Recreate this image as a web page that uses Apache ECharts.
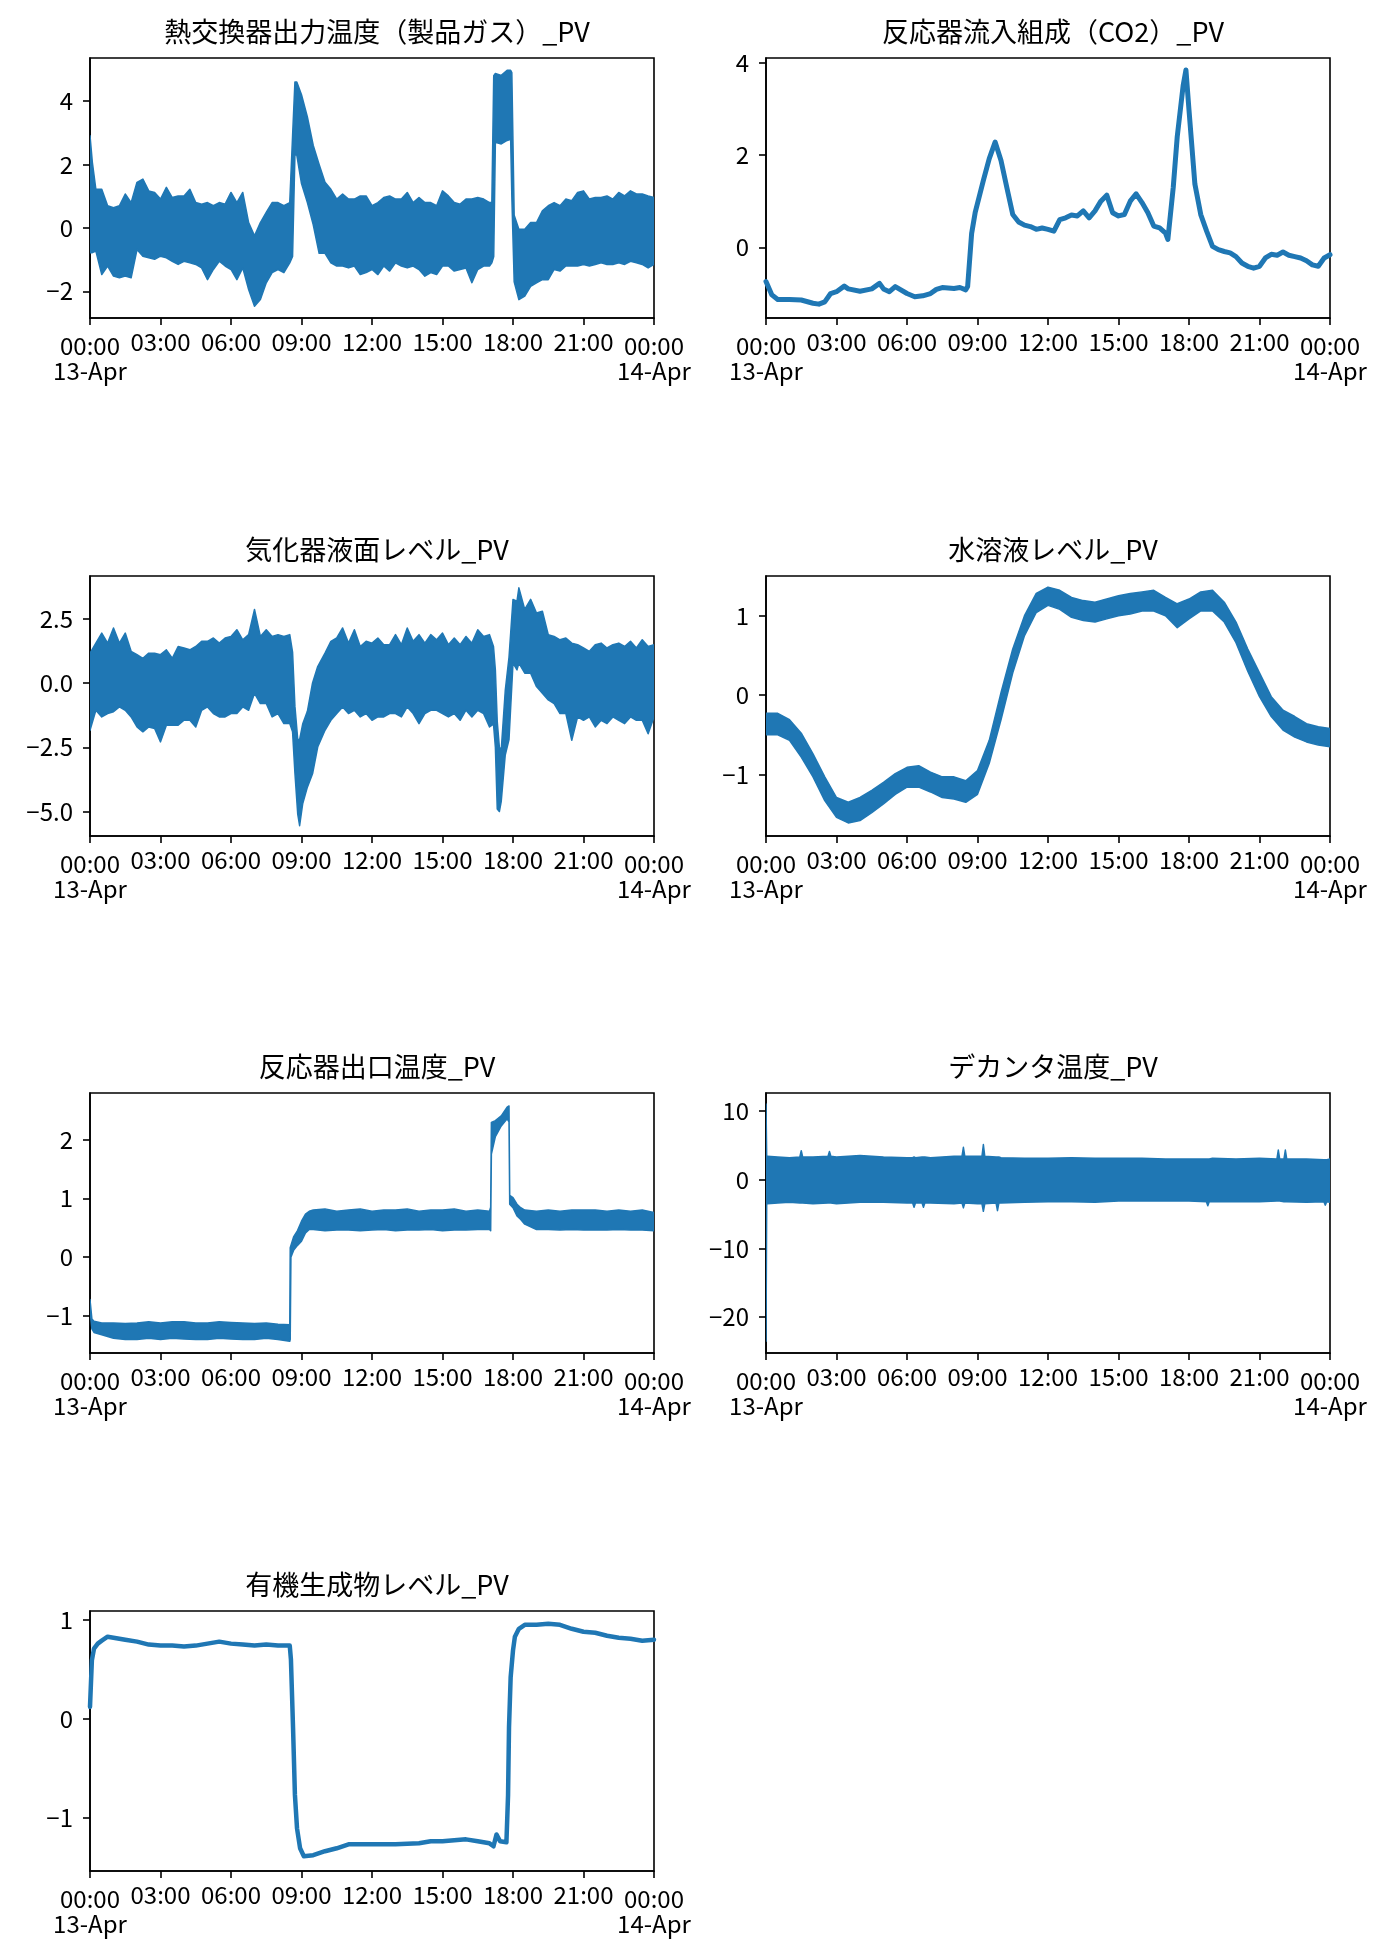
<!DOCTYPE html>
<html><head><meta charset="utf-8">
<script src="https://cdn.jsdelivr.net/npm/echarts@6/dist/echarts.min.js"></script>
<style>html,body{margin:0;padding:0;background:#fff}#c{width:1389px;height:1959px}</style>
</head><body><div id="c"></div>
<script>
// ---------------- DATA (time in hours from 13-Apr 00:00) ----------------
const TITLES = ['熱交換器出力温度（製品ガス）_PV','反応器流入組成（CO2）_PV','気化器液面レベル_PV','水溶液レベル_PV','反応器出口温度_PV','デカンタ温度_PV','有機生成物レベル_PV'];
const X_TICK_LABELS = ['00:00','03:00','06:00','09:00','12:00','15:00','18:00','21:00','00:00'];
const X_DATE_LABELS = ['13-Apr','14-Apr'];

// 1. 熱交換器出力温度 (band envelope)
const hxT = [0,0.1,0.25,0.5,0.75,1,1.25,1.5,1.75,2,
2.25,2.5,2.75,3,3.25,3.5,3.75,4,4.25,4.5,
4.75,5,5.25,5.5,5.75,6,6.25,6.5,6.75,7,
7.25,7.5,7.75,8,8.25,8.5,8.62,8.72,8.8,9,
9.25,9.5,9.75,10,10.25,10.5,10.75,11,11.25,11.5,
11.75,12,12.25,12.5,12.75,13,13.25,13.5,13.75,14,
14.25,14.5,14.75,15,15.25,15.5,15.75,16,16.25,16.5,
16.75,17,17.1,17.18,17.25,17.5,17.75,17.9,17.95,18.05,
18.25,18.5,18.75,19,19.25,19.5,19.75,20,20.25,20.5,
20.75,21,21.25,21.5,21.75,22,22.25,22.5,22.75,23,
23.25,23.5,23.75,24];
const hxHi = [2.91,2.07,1.22,1.22,0.70,0.64,0.70,1.07,0.80,1.44,
1.54,1.17,1.12,0.91,1.28,0.96,1.01,1.01,1.22,0.80,
0.75,0.80,0.70,0.80,0.75,1.12,0.80,1.12,0.17,-0.25,
0.17,0.49,0.80,0.80,0.70,0.80,2.90,4.60,4.60,4.20,
3.50,2.60,2.00,1.44,1.22,0.91,1.07,0.91,0.91,1.01,
1.01,0.70,0.80,0.96,1.01,0.91,0.91,1.12,0.80,0.96,
0.80,0.80,0.70,1.17,1.01,0.80,0.75,0.91,0.91,0.96,
0.91,0.80,0.80,4.80,4.87,4.81,4.97,4.97,4.90,0.40,
-0.04,-0.04,0.17,0.17,0.54,0.70,0.80,0.70,0.91,0.86,
1.12,1.17,0.91,0.96,0.96,1.01,0.91,1.12,1.01,1.17,
1.07,1.07,1.01,0.96];
const hxLo = [-0.78,-0.78,-0.73,-1.47,-1.20,-1.52,-1.57,-1.52,-1.57,-0.68,
-0.89,-0.94,-0.99,-0.89,-0.94,-1.05,-1.15,-1.05,-1.10,-1.15,
-1.26,-1.63,-1.31,-1.05,-1.20,-1.31,-1.63,-1.26,-1.94,-2.47,
-2.26,-1.73,-1.41,-1.31,-1.41,-1.10,-0.90,2.30,2.30,1.40,
0.80,0.10,-0.80,-0.80,-1.10,-1.20,-1.20,-1.26,-1.20,-1.47,
-1.41,-1.31,-1.47,-1.20,-1.36,-1.10,-1.20,-1.26,-1.20,-1.31,
-1.52,-1.41,-1.47,-1.20,-1.20,-1.36,-1.31,-1.26,-1.73,-1.31,
-1.20,-1.20,-1.10,-0.90,2.70,2.65,2.76,2.80,1.00,-1.70,
-2.26,-2.15,-1.84,-1.73,-1.63,-1.63,-1.31,-1.36,-1.20,-1.20,
-1.20,-1.15,-1.20,-1.15,-1.10,-1.15,-1.15,-1.10,-1.15,-1.05,
-1.10,-1.15,-1.26,-1.15];

// 2. 反応器流入組成（CO2） (line)
const coT = [0,0.25,0.5,1,1.5,2,2.25,2.5,2.75,3,
3.33,3.5,4,4.5,4.83,5,5.25,5.5,6,6.33,
6.67,7,7.25,7.5,8,8.25,8.5,8.58,8.75,8.9,
9.25,9.5,9.75,10,10.25,10.5,10.75,11,11.25,11.5,
11.75,12,12.25,12.5,12.75,13,13.25,13.5,13.75,14,
14.25,14.5,14.75,15,15.25,15.5,15.75,16,16.25,16.5,
16.75,17,17.1,17.33,17.5,17.75,17.87,18,18.25,18.5,
18.75,19,19.25,19.5,19.75,20,20.25,20.5,20.75,21,
21.25,21.5,21.75,22,22.25,22.5,22.75,23,23.25,23.5,
23.75,24];
const coV = [-0.74,-1.03,-1.13,-1.13,-1.14,-1.21,-1.23,-1.18,-1.00,-0.96,
-0.84,-0.90,-0.95,-0.90,-0.78,-0.90,-0.96,-0.85,-1.00,-1.07,
-1.05,-1.00,-0.91,-0.87,-0.89,-0.87,-0.92,-0.85,0.30,0.75,
1.45,1.92,2.28,1.88,1.29,0.71,0.55,0.48,0.45,0.39,
0.42,0.39,0.35,0.60,0.64,0.70,0.68,0.79,0.64,0.79,
1.00,1.13,0.75,0.68,0.71,1.00,1.16,0.97,0.75,0.46,
0.42,0.31,0.17,1.30,2.40,3.50,3.84,2.97,1.37,0.71,
0.35,0.02,-0.05,-0.09,-0.12,-0.20,-0.34,-0.41,-0.45,-0.41,
-0.23,-0.15,-0.17,-0.10,-0.17,-0.20,-0.23,-0.29,-0.38,-0.41,
-0.23,-0.16];

// 3. 気化器液面レベル (band envelope)
const vpT = [0,0.25,0.5,0.75,1,1.25,1.5,1.75,2,2.25,
2.5,2.75,3,3.25,3.5,3.75,4,4.25,4.5,4.75,
5,5.25,5.5,5.75,6,6.25,6.5,6.75,7,7.25,
7.5,7.75,8,8.25,8.5,8.62,8.72,8.84,8.92,9.05,
9.25,9.47,9.69,10,10.25,10.5,10.75,11,11.25,11.5,
11.75,12,12.25,12.5,12.75,13,13.25,13.5,13.75,14,
14.25,14.5,14.75,15,15.25,15.5,15.75,16,16.25,16.5,
16.75,17,17.17,17.25,17.33,17.42,17.5,17.67,17.83,18,
18.17,18.25,18.5,18.75,19,19.25,19.5,19.75,20,20.25,
20.5,20.75,21,21.25,21.5,21.75,22,22.25,22.5,22.75,
23,23.25,23.5,23.75,24];
const vpHi = [1.16,1.55,1.94,1.55,2.14,1.55,1.94,1.23,1.10,0.96,
1.16,1.16,1.10,1.29,0.96,1.42,1.36,1.29,1.42,1.62,
1.62,1.75,1.55,1.75,1.81,2.07,1.68,1.88,2.86,1.81,
2.07,1.81,1.88,1.81,1.88,1.20,-0.90,-2.20,-2.20,-1.60,
-1.10,0.00,0.64,1.16,1.62,1.75,2.14,1.55,2.07,1.42,
1.62,1.55,1.75,1.49,1.49,1.88,1.49,2.14,1.62,1.88,
1.55,1.88,1.68,1.94,1.49,1.75,1.49,1.81,1.55,2.07,
1.81,1.88,1.42,0.50,-1.50,-2.50,-2.60,-0.30,1.00,3.25,
3.18,3.70,2.86,3.25,2.72,2.79,1.88,1.81,1.68,1.75,
1.55,1.49,1.36,1.23,1.49,1.55,1.36,1.49,1.55,1.42,
1.62,1.36,1.68,1.42,1.49];
const vpLo = [-1.84,-1.06,-1.32,-1.19,-1.12,-0.93,-1.06,-1.32,-1.71,-1.90,
-1.71,-1.77,-2.29,-1.64,-1.64,-1.64,-1.45,-1.45,-1.71,-1.06,
-0.93,-1.19,-1.32,-1.32,-1.19,-1.19,-0.93,-1.06,-0.40,-0.80,
-0.80,-1.32,-1.19,-1.58,-1.58,-1.90,-3.50,-5.10,-5.55,-4.70,
-4.05,-3.53,-2.49,-1.84,-1.45,-1.19,-0.93,-1.19,-1.06,-1.32,
-1.19,-1.45,-1.32,-1.32,-1.19,-1.19,-1.32,-0.93,-1.19,-1.58,
-1.19,-1.06,-1.06,-1.19,-1.32,-1.19,-1.45,-1.06,-1.32,-1.06,
-1.19,-1.71,-1.60,-2.50,-4.90,-5.00,-4.60,-2.80,-2.20,0.77,
0.51,0.77,0.38,0.38,-0.14,-0.40,-0.66,-0.80,-1.19,-1.19,
-2.23,-1.32,-1.45,-1.32,-1.71,-1.45,-1.58,-1.32,-1.45,-1.58,
-1.32,-1.45,-1.45,-1.97,-1.32];

// 4. 水溶液レベル (band envelope, 30 min)
const aqT = [0,0.5,1,1.5,2,2.5,3,3.5,4,4.5,5,5.5,6,6.5,7,7.5,8,8.5,9,9.5,10,10.5,11,11.5,12,12.5,13,13.5,14,14.5,15,15.5,16,16.5,17,17.5,18,18.5,19,19.5,20,20.5,21,21.5,22,22.5,23,23.5,24];
const aqHi = [-0.23,-0.23,-0.31,-0.48,-0.74,-1.03,-1.29,-1.35,-1.29,-1.20,-1.10,-0.99,-0.91,-0.89,-0.97,-1.03,-1.03,-1.08,-0.95,-0.57,0.03,0.58,1.00,1.28,1.36,1.32,1.23,1.19,1.17,1.21,1.25,1.28,1.30,1.32,1.23,1.15,1.21,1.30,1.32,1.17,0.92,0.58,0.28,-0.02,-0.19,-0.27,-0.36,-0.40,-0.42];
const aqLo = [-0.50,-0.50,-0.57,-0.78,-1.03,-1.33,-1.54,-1.61,-1.58,-1.48,-1.37,-1.25,-1.16,-1.16,-1.22,-1.29,-1.31,-1.35,-1.25,-0.86,-0.31,0.28,0.75,1.04,1.13,1.08,0.98,0.94,0.92,0.96,1.00,1.02,1.06,1.06,1.00,0.85,0.96,1.06,1.06,0.92,0.66,0.30,-0.02,-0.27,-0.44,-0.53,-0.59,-0.63,-0.65];

// 5. 反応器出口温度 (band envelope)
const otT = [0,0.08,0.17,0.5,1,1.5,2,2.5,3,3.5,
4,4.5,5,5.5,6,6.5,7,7.5,8,8.5,
8.52,8.55,8.67,8.83,9,9.17,9.33,9.5,10,10.5,
11,11.5,12,12.5,13,13.5,14,14.5,15,15.5,
16,16.5,17,17.05,17.08,17.25,17.5,17.75,17.83,17.86,
18,18.17,18.33,18.5,19,19.5,20,20.5,21,21.5,
22,22.5,23,23.5,24];
const otHi = [-0.72,-1.05,-1.09,-1.12,-1.12,-1.13,-1.12,-1.10,-1.12,-1.10,
-1.10,-1.12,-1.12,-1.10,-1.11,-1.12,-1.13,-1.12,-1.14,-1.15,
0.16,0.20,0.35,0.45,0.61,0.73,0.78,0.80,0.82,0.78,
0.80,0.82,0.78,0.80,0.80,0.82,0.78,0.80,0.80,0.82,
0.78,0.80,0.78,0.85,2.29,2.32,2.40,2.55,2.57,1.05,
1.01,0.90,0.84,0.80,0.78,0.80,0.78,0.80,0.80,0.80,
0.78,0.80,0.78,0.80,0.76];
const otLo = [-0.90,-1.22,-1.28,-1.32,-1.38,-1.40,-1.40,-1.38,-1.40,-1.38,
-1.39,-1.40,-1.40,-1.38,-1.39,-1.40,-1.40,-1.38,-1.40,-1.43,
-1.40,0.00,0.12,0.20,0.27,0.41,0.47,0.47,0.45,0.46,
0.46,0.45,0.46,0.47,0.45,0.46,0.46,0.47,0.45,0.46,
0.46,0.47,0.47,0.45,1.75,2.05,2.23,2.35,2.30,0.90,
0.84,0.70,0.64,0.56,0.47,0.47,0.46,0.47,0.46,0.46,
0.46,0.47,0.46,0.46,0.45];

// 6. デカンタ温度 (band envelope)
const dcT = [0,0.03,0.06,0.5,1,1.44,1.5,1.56,2,2.64,
2.7,2.76,3,4,5,6,6.24,6.3,6.36,6.64,
6.7,6.76,7,8,8.34,8.4,8.46,9,9.19,9.25,
9.31,9.79,9.85,9.91,10,11,12,13,14,15,
16,17,18,18.74,18.8,18.86,19,20,21,21.74,
21.8,21.86,22.04,22.1,22.16,23,23.74,23.8,23.86,24];
const dcHi = [11.0,3.3,3.4,3.3,3.2,3.3,4.2,3.3,3.3,3.4,
4.1,3.4,3.3,3.5,3.3,3.2,3.2,3.3,3.2,3.3,
3.3,3.3,3.2,3.4,3.4,4.7,3.4,3.4,3.4,5.1,
3.4,3.3,3.3,3.3,3.2,3.1,3.1,3.2,3.1,3.1,
3.1,3.0,3.0,3.0,3.0,3.0,3.1,3.0,3.1,3.0,
4.3,3.0,3.0,4.3,3.0,3.0,2.9,2.9,2.9,3.0];
const dcLo = [-23.5,-3.4,-3.5,-3.4,-3.3,-3.4,-3.4,-3.4,-3.5,-3.4,
-3.4,-3.4,-3.5,-3.3,-3.3,-3.4,-3.4,-4.0,-3.4,-3.4,
-4.0,-3.4,-3.4,-3.5,-3.4,-4.1,-3.4,-3.5,-3.5,-4.6,
-3.5,-3.4,-4.5,-3.4,-3.4,-3.3,-3.2,-3.2,-3.3,-3.1,
-3.1,-3.1,-3.1,-3.2,-3.8,-3.2,-3.2,-3.2,-3.2,-3.1,
-3.1,-3.1,-3.2,-3.2,-3.2,-3.3,-3.2,-3.7,-3.2,-3.3];

// 7. 有機生成物レベル (line)
const orT = [0,0.08,0.17,0.33,0.5,0.75,1,1.5,2,2.5,
3,3.5,4,4.5,5,5.5,6,6.5,7,7.5,
8,8.5,8.55,8.64,8.72,8.81,8.94,9.1,9.5,10,
10.5,11,12,13,14,14.5,15,16,16.5,17,
17.17,17.3,17.45,17.72,17.79,17.83,17.9,18,18.08,18.25,
18.5,19,19.5,20,20.5,21,21.5,22,22.5,23,
23.5,24];
const orV = [0.12,0.59,0.71,0.76,0.79,0.83,0.82,0.80,0.78,0.75,
0.74,0.74,0.73,0.74,0.76,0.78,0.76,0.75,0.74,0.75,
0.74,0.74,0.60,-0.09,-0.77,-1.11,-1.31,-1.39,-1.38,-1.34,
-1.31,-1.27,-1.27,-1.27,-1.26,-1.24,-1.24,-1.22,-1.24,-1.26,
-1.29,-1.17,-1.24,-1.25,-0.77,-0.09,0.42,0.69,0.83,0.91,
0.95,0.95,0.96,0.95,0.91,0.88,0.87,0.84,0.82,0.81,
0.79,0.80];

// y-axis ranges and tick values
const Y_MIN = [-2.84,-1.53,-5.95,-1.775,-1.63,-25.2,-1.54];
const Y_MAX = [5.36,4.10,4.16,1.50,2.79,12.6,1.09];
const Y_TICKS = [[-2,0,2,4],[0,2,4],[-5,-2.5,0,2.5],[-1,0,1],[-1,0,1,2],[-20,-10,0,10],[-1,0,1]];
const Y_DEC = [0,0,1,0,0,0,0];

// ---------------- CHART ----------------
const BLUE = '#1f77b4';
const FONT = '"Noto Sans CJK JP","Noto Sans",sans-serif';
const FS = 24;
const GW = 564, GH = 260;
const GRID_POS = [[90,58],[766,58],[90,576],[766,576],[90,1093],[766,1093],[90,1611]];
const SERIES_DEF = [
  {T:hxT, hi:hxHi, lo:hxLo},
  {T:coT, v:coV, w:5},
  {T:vpT, hi:vpHi, lo:vpLo},
  {T:aqT, hi:aqHi, lo:aqLo},
  {T:otT, hi:otHi, lo:otLo},
  {T:dcT, hi:dcHi, lo:dcLo},
  {T:orT, v:orV, w:4.5}
];

const fmtY = (v, d) => { const s = Math.abs(v).toFixed(d); return (v < 0 ? '\u2212' : '') + s; };

const grid = [], xAxis = [], yAxis = [], series = [], title = [];
GRID_POS.forEach(([l, t], i) => {
  grid.push({left:l, top:t, width:GW, height:GH, show:true, borderColor:'#000', borderWidth:1.6, backgroundColor:'transparent', outerBoundsMode:'none', containLabel:false});
  title.push({text:TITLES[i], left:l + GW/2, top:t - 45, textAlign:'center',
    textStyle:{fontSize:27, fontWeight:'normal', color:'#000', fontFamily:FONT}});
  xAxis.push({type:'value', gridIndex:i, min:0, max:24, interval:3,
    axisLine:{show:true, onZero:false, lineStyle:{color:'#000', width:1.6}},
    axisTick:{show:true, length:7, lineStyle:{color:'#000', width:1.6}},
    splitLine:{show:false},
    axisLabel:{show:true, showMinLabel:true, showMaxLabel:true, margin:12, color:'#000', fontSize:FS, fontFamily:FONT,
      formatter:(v) => {
        const k = Math.round(v/3);
        if (k === 0) return '{d|' + X_TICK_LABELS[0] + '}\n{e|' + X_DATE_LABELS[0] + '}';
        if (k === 8) return '{d|' + X_TICK_LABELS[8] + '}\n{e|' + X_DATE_LABELS[1] + '}';
        return X_TICK_LABELS[k];
      },
      rich:{
        d:{fontSize:FS, fontFamily:FONT, color:'#000', padding:[5,0,0,0], lineHeight:27},
        e:{fontSize:FS, fontFamily:FONT, color:'#000', lineHeight:27}
      }}
  });
  yAxis.push({type:'value', gridIndex:i, min:Y_MIN[i], max:Y_MAX[i],
    axisLine:{show:true, onZero:false, lineStyle:{color:'#000', width:1.6}},
    axisTick:{show:true, length:7, lineStyle:{color:'#000', width:1.6}, customValues:Y_TICKS[i]},
    splitLine:{show:false},
    axisLabel:{show:true, margin:17, color:'#000', fontSize:FS, fontFamily:FONT, customValues:Y_TICKS[i],
      showMinLabel:true, showMaxLabel:true,
      formatter:(v) => fmtY(v, Y_DEC[i])}
  });
  const d = SERIES_DEF[i];
  if (d.v) {
    series.push({type:'line', xAxisIndex:i, yAxisIndex:i, symbol:'none', silent:true,
      data:d.T.map((t,k) => [t, d.v[k]]),
      lineStyle:{color:BLUE, width:d.w, join:'round', cap:'round'}});
  } else {
    const n = Math.min(d.T.length, d.hi.length, d.lo.length);
    series.push({type:'custom', xAxisIndex:i, yAxisIndex:i, silent:true, clip:true,
      data:[[d.T[0], d.hi[0]]],
      renderItem:(params, api) => {
        const pts = [];
        for (let k = 0; k < n; k++) pts.push(api.coord([d.T[k], d.hi[k]]));
        for (let k = n - 1; k >= 0; k--) pts.push(api.coord([d.T[k], d.lo[k]]));
        return {type:'polygon', shape:{points:pts},
          style:{fill:BLUE, stroke:BLUE, lineWidth:1.5, lineJoin:'round'}};
      }});
  }
});

const chart = echarts.init(document.getElementById('c'), null, {renderer:'canvas'});
chart.setOption({animation:false, backgroundColor:'#fff', title, grid, xAxis, yAxis, series});
</script>
</body></html>
